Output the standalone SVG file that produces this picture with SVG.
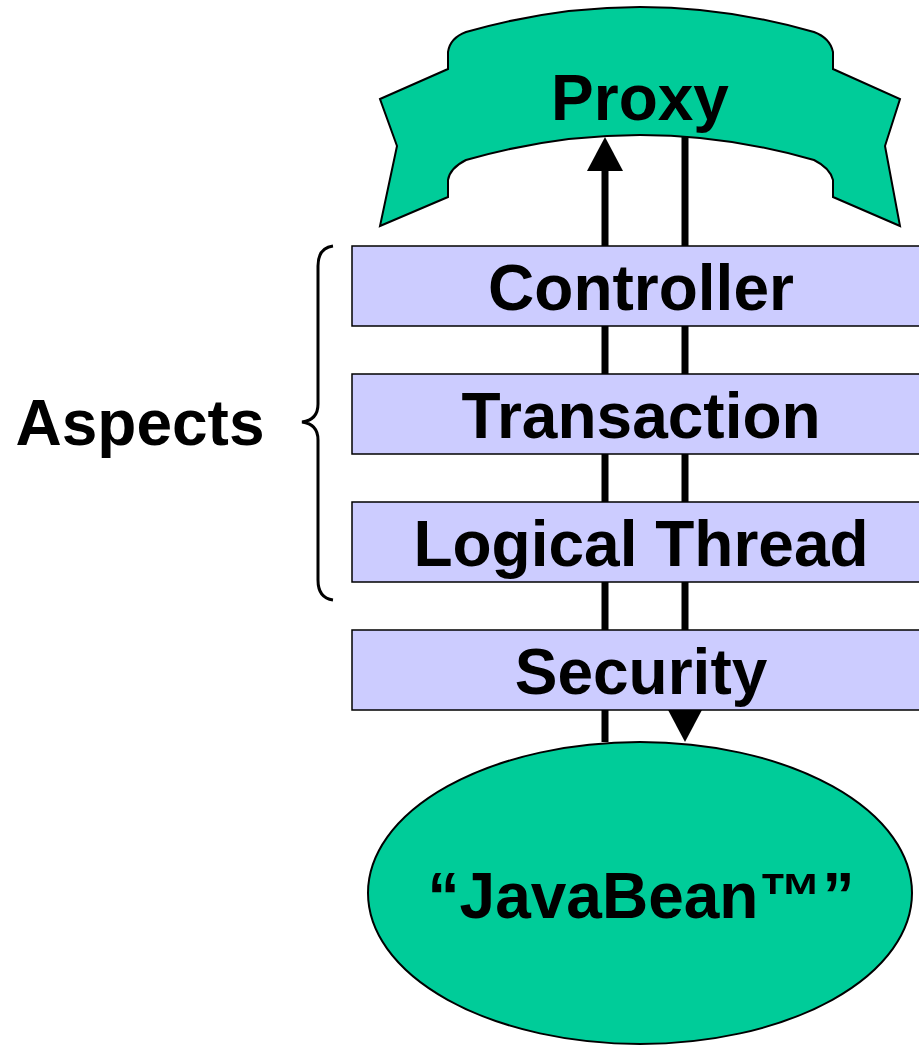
<svg xmlns="http://www.w3.org/2000/svg" width="919" height="1046" viewBox="0 0 919 1046">
  <style>
    .lbl { font-family: "Liberation Sans", Arial, sans-serif; font-weight: bold; font-size: 64px; fill: #000; text-anchor: middle; }
    .box { fill: #CCCCFF; stroke: #000; stroke-width: 1.5; }
    .green { fill: #00CC99; stroke: #000; stroke-width: 2; }
    .flow { stroke: #000; stroke-width: 7; fill: none; marker-end: url(#head); }
  </style>
  <defs>
    <marker id="head" markerUnits="userSpaceOnUse" markerWidth="34" markerHeight="36" viewBox="0 0 34 36" refX="0" refY="18" orient="auto">
      <path d="M0,0 L34,18 L0,36 Z" fill="#000"/>
    </marker>
  </defs>
  <rect width="919" height="1046" fill="#fff"/>

  <g id="connectors">
    <line class="flow" x1="605" y1="742" x2="605" y2="171"/>
    <line class="flow" x1="685" y1="137" x2="685" y2="708"/>
  </g>

  <g id="proxy">
    <path class="green" d="M380,99 L448,69 L448,52 Q450,38 466,32 Q640,-18 814,32 Q830,38 833,52 L833,69 L900,99 L885,146 L900,226 L833,197 L833,180 Q830,168 814,160 Q640,110 466,160 Q450,168 448,180 L448,197 L380,226 L397,146 Z"/>
    <text class="lbl" x="640" y="120">Proxy</text>
  </g>

  <g id="controller">
    <rect class="box" x="352" y="246" width="580" height="80"/>
    <text class="lbl" x="641" y="310">Controller</text>
  </g>
  <g id="transaction">
    <rect class="box" x="352" y="374" width="580" height="80"/>
    <text class="lbl" x="641" y="438">Transaction</text>
  </g>
  <g id="logical-thread">
    <rect class="box" x="352" y="502" width="580" height="80"/>
    <text class="lbl" x="641" y="566">Logical Thread</text>
  </g>
  <g id="security">
    <rect class="box" x="352" y="630" width="580" height="80"/>
    <text class="lbl" x="641" y="694">Security</text>
  </g>

  <g id="aspects">
    <path d="M333,246 Q318,248 318,266 L318,404 Q318,420 302,422 Q318,424 318,440 L318,580 Q318,598 333,600" fill="none" stroke="#000" stroke-width="3"/>
    <text class="lbl" x="140" y="445">Aspects</text>
  </g>

  <g id="javabean">
    <ellipse class="green" cx="640" cy="893" rx="272" ry="151"/>
    <text class="lbl" x="641" y="918">“JavaBean™”</text>
  </g>
</svg>
